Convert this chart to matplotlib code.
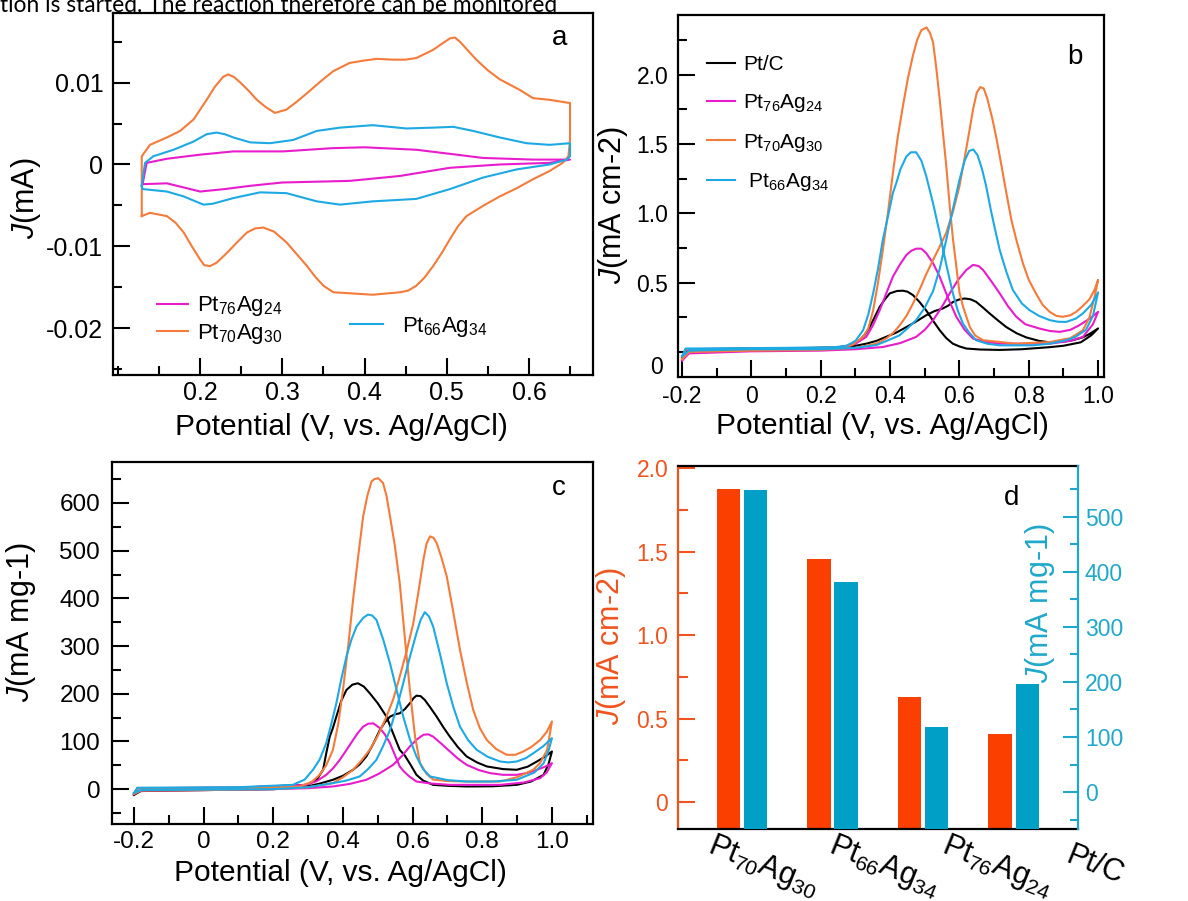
import matplotlib
matplotlib.use("Agg")
import matplotlib.pyplot as plt
from matplotlib.ticker import MultipleLocator, FixedLocator, FuncFormatter

plt.rcParams['font.family'] = ['Liberation Sans', 'DejaVu Sans']
plt.rcParams['mathtext.fontset'] = 'custom'
plt.rcParams['mathtext.rm'] = 'Liberation Sans'
plt.rcParams['mathtext.it'] = 'Liberation Sans:italic'
plt.rcParams['mathtext.default'] = 'regular'
plt.rcParams['axes.unicode_minus'] = False

ORANGE = '#F47B3A'
MAGENTA = '#E81CCC'
CYAN = '#1DA9E4'
BAR_RED = '#FB3F00'
BAR_CYAN = '#00A0C6'
AX_RED = '#F0541E'
AX_CYAN = '#1FA8CB'

# ---- panel a: CV in N2 (J in mA), closed loops ----
a_pt70_x = [0.129, 0.129, 0.139, 0.1595, 0.1757, 0.192, 0.208, 0.218, 0.228, 0.234, 0.241, 0.249, 0.259,
            0.269, 0.280, 0.291, 0.305, 0.318, 0.330, 0.346, 0.362, 0.382, 0.400, 0.415, 0.435, 0.450,
            0.463, 0.4835, 0.495, 0.504, 0.510, 0.516, 0.525, 0.536, 0.550, 0.5645, 0.589, 0.605,
            0.625, 0.650, 0.650, 0.648, 0.641, 0.625, 0.605, 0.585, 0.5645, 0.545, 0.524, 0.514, 0.504,
            0.494, 0.4835, 0.473, 0.463, 0.453, 0.443, 0.410, 0.362, 0.350, 0.340, 0.330, 0.318, 0.305,
            0.290, 0.277, 0.267, 0.257, 0.245, 0.2325, 0.220, 0.212, 0.205, 0.200, 0.190, 0.180, 0.170,
            0.1595, 0.139, 0.129]
a_pt70_y = [-0.0063, 0.0010, 0.0024, 0.0033, 0.0041, 0.0055, 0.0079, 0.0095, 0.0107, 0.0110, 0.0107,
            0.0100, 0.0090, 0.0079, 0.0070, 0.0063, 0.0067, 0.0077, 0.0087, 0.0101, 0.0114, 0.0124,
            0.0127, 0.0129, 0.0128, 0.0128, 0.0130, 0.0140, 0.0148, 0.0154, 0.0155, 0.0150, 0.0140,
            0.0128, 0.0115, 0.0104, 0.0091, 0.0081, 0.0079, 0.0075, 0.0030, 0.0010, 0.0002, -0.0008,
            -0.0018, -0.0029, -0.0039, -0.0050, -0.0063, -0.0075, -0.0091, -0.0108, -0.0124, -0.0138,
            -0.0148, -0.0154, -0.0156, -0.0159, -0.0156, -0.0148, -0.0137, -0.0124, -0.0110, -0.0095,
            -0.0082, -0.0077, -0.0078, -0.0083, -0.0095, -0.0108, -0.0120, -0.0124, -0.0123, -0.0116,
            -0.0100, -0.0083, -0.0071, -0.0063, -0.0059, -0.0063]

a_pt66_x = [0.129, 0.133, 0.143, 0.1676, 0.192, 0.208, 0.220, 0.230, 0.2405, 0.261, 0.285, 0.3134,
            0.342, 0.370, 0.410, 0.451, 0.4835, 0.508, 0.532, 0.5645, 0.597, 0.625, 0.650, 0.650, 0.646,
            0.625, 0.585, 0.544, 0.504, 0.463, 0.410, 0.370, 0.342, 0.305, 0.273, 0.2405, 0.215, 0.204,
            0.192, 0.180, 0.1595, 0.130, 0.129]
a_pt66_y = [-0.0026, 0.0002, 0.0010, 0.0018, 0.0028, 0.0037, 0.0039, 0.0037, 0.0033, 0.0027, 0.0026,
            0.0030, 0.0041, 0.0045, 0.0048, 0.0044, 0.0045, 0.0046, 0.0041, 0.0033, 0.0026, 0.0024,
            0.0026, 0.0010, 0.0006, 0.0000, -0.0006, -0.0016, -0.0030, -0.0042, -0.0045, -0.0049,
            -0.0045, -0.0035, -0.0034, -0.0041, -0.0048, -0.0049, -0.0044, -0.0039, -0.0033, -0.0030,
            -0.0026]

a_pt76_x = [0.130, 0.135, 0.1595, 0.200, 0.2405, 0.301, 0.362, 0.400, 0.463, 0.504, 0.544, 0.605,
            0.650, 0.625, 0.5645, 0.504, 0.443, 0.382, 0.300, 0.261, 0.230, 0.200, 0.180, 0.1595, 0.130]
a_pt76_y = [-0.0024, 0.0002, 0.0007, 0.0012, 0.0016, 0.0016, 0.0020, 0.0021, 0.0018, 0.0013, 0.0008,
            0.0006, 0.0006, 0.0002, 0.0000, -0.0004, -0.0014, -0.0020, -0.0022, -0.0026, -0.0030,
            -0.0033, -0.0028, -0.0023, -0.0024]

# ---- panel b: CV in methanol (J in mA cm-2), forward + reverse scans ----
b_ptc_fx = [-0.2, -0.18, 0.0, 0.2, 0.28, 0.331, 0.36, 0.389, 0.418, 0.447, 0.475, 0.504, 0.528, 0.552,
            0.568, 0.581, 0.598, 0.615, 0.632, 0.648, 0.668, 0.687, 0.71, 0.735, 0.765, 0.793, 0.83,
            0.86, 0.9, 0.927, 0.955, 0.975, 1.0]
b_ptc_fy = [-0.04, 0.01, 0.015, 0.02, 0.035, 0.06, 0.08, 0.11, 0.14, 0.18, 0.22, 0.265, 0.295, 0.314,
            0.335, 0.36, 0.378, 0.386, 0.38, 0.362, 0.32, 0.278, 0.23, 0.18, 0.135, 0.105, 0.08, 0.07,
            0.075, 0.085, 0.105, 0.13, 0.17]
b_ptc_rx = [0.98, 0.95, 0.9, 0.86, 0.78, 0.716, 0.66, 0.62, 0.6, 0.581, 0.562, 0.543, 0.524, 0.504,
            0.485, 0.466, 0.45, 0.437, 0.42, 0.399, 0.385, 0.37, 0.355, 0.341, 0.327, 0.312, 0.29, 0.255,
            0.139, 0.0, -0.19, -0.2]
b_ptc_ry = [0.12, 0.07, 0.045, 0.035, 0.02, 0.015, 0.018, 0.025, 0.04, 0.06, 0.10, 0.157, 0.225, 0.30,
            0.36, 0.41, 0.435, 0.442, 0.44, 0.423, 0.38, 0.326, 0.25, 0.18, 0.125, 0.085, 0.05, 0.036,
            0.025, 0.025, 0.02, -0.04]

b_pt76_fx = [-0.2, -0.18, 0.0, 0.2, 0.3, 0.379, 0.43, 0.475, 0.5, 0.524, 0.548, 0.572, 0.596, 0.62, 0.639,
             0.655, 0.668, 0.692, 0.716, 0.74, 0.764, 0.79, 0.831, 0.86, 0.889, 0.92, 0.946, 0.975, 1.0]
b_pt76_fy = [-0.06, -0.01, 0.005, 0.01, 0.02, 0.036, 0.065, 0.109, 0.16, 0.23, 0.32, 0.423, 0.52, 0.592,
             0.628, 0.62, 0.592, 0.51, 0.423, 0.33, 0.254, 0.20, 0.169, 0.152, 0.145, 0.16, 0.193, 0.24,
             0.29]
b_pt76_rx = [0.985, 0.956, 0.92, 0.86, 0.716, 0.67, 0.639, 0.615, 0.591, 0.567, 0.543, 0.524, 0.504, 0.49,
             0.475, 0.461, 0.447, 0.428, 0.408, 0.39, 0.37, 0.35, 0.331, 0.30, 0.274, 0.1, -0.19, -0.2]
b_pt76_ry = [0.2, 0.109, 0.08, 0.06, 0.06, 0.075, 0.097, 0.16, 0.254, 0.39, 0.543, 0.64, 0.713, 0.745,
             0.745, 0.73, 0.70, 0.63, 0.543, 0.43, 0.302, 0.19, 0.109, 0.06, 0.036, 0.02, 0.015, -0.06]

b_pt70_fx = [-0.2, -0.18, 0.0, 0.2, 0.3, 0.36, 0.39, 0.41, 0.43, 0.447, 0.466, 0.485, 0.504, 0.524, 0.543,
             0.562, 0.581, 0.6, 0.615, 0.629, 0.64, 0.65, 0.66, 0.67, 0.68, 0.695, 0.706, 0.72, 0.735,
             0.75, 0.765, 0.783, 0.80, 0.821, 0.84, 0.86, 0.88, 0.898, 0.92, 0.937, 0.955, 0.975, 0.99,
             1.0]
b_pt70_fy = [-0.05, 0.0, 0.01, 0.015, 0.03, 0.06, 0.10, 0.14, 0.20, 0.26, 0.35, 0.45, 0.56, 0.664, 0.76,
             0.86, 1.01, 1.196, 1.40, 1.60, 1.76, 1.87, 1.91, 1.90, 1.83, 1.68, 1.55, 1.36, 1.15, 0.95,
             0.80, 0.64, 0.52, 0.42, 0.34, 0.29, 0.26, 0.254, 0.265, 0.29, 0.33, 0.38, 0.45, 0.52]
b_pt70_rx = [0.99, 0.975, 0.956, 0.92, 0.86, 0.764, 0.668, 0.645, 0.63, 0.62, 0.61, 0.60, 0.591, 0.581,
             0.572, 0.562, 0.552, 0.543, 0.533, 0.524, 0.515, 0.505, 0.49, 0.478, 0.466, 0.451, 0.437,
             0.422, 0.408, 0.394, 0.379, 0.365, 0.351, 0.337, 0.322, 0.29, 0.255, 0.1, -0.19, -0.2]
b_pt70_ry = [0.40, 0.25, 0.157, 0.10, 0.072, 0.06, 0.085, 0.12, 0.18, 0.254, 0.33, 0.43, 0.616, 0.82,
             1.05, 1.34, 1.59, 1.82, 2.05, 2.23, 2.30, 2.34, 2.32, 2.25, 2.14, 1.97, 1.775, 1.55, 1.29,
             1.01, 0.737, 0.50, 0.30, 0.17, 0.109, 0.05, 0.036, 0.025, 0.02, -0.05]

b_pt66_fx = [-0.2, -0.18, 0.0, 0.2, 0.3, 0.36, 0.39, 0.427, 0.45, 0.475, 0.5, 0.524, 0.543, 0.562, 0.581,
             0.6, 0.615, 0.628, 0.64, 0.652, 0.665, 0.677, 0.69, 0.703, 0.716, 0.735, 0.754, 0.78, 0.802,
             0.83, 0.86, 0.885, 0.908, 0.935, 0.956, 0.98, 1.0]
b_pt66_fy = [-0.03, 0.01, 0.02, 0.02, 0.03, 0.05, 0.08, 0.12, 0.17, 0.23, 0.32, 0.44, 0.60, 0.81, 1.03,
             1.24, 1.38, 1.45, 1.46, 1.42, 1.32, 1.196, 1.03, 0.88, 0.737, 0.58, 0.447, 0.35, 0.302, 0.26,
             0.23, 0.218, 0.217, 0.24, 0.278, 0.34, 0.43]
b_pt66_rx = [0.985, 0.965, 0.935, 0.908, 0.86, 0.812, 0.716, 0.68, 0.648, 0.628, 0.61, 0.595, 0.581, 0.562,
             0.543, 0.524, 0.504, 0.49, 0.475, 0.46, 0.447, 0.43, 0.418, 0.408, 0.394, 0.379, 0.365,
             0.351, 0.337, 0.322, 0.30, 0.274, 0.24, 0.1, -0.19, -0.2]
b_pt66_ry = [0.26, 0.16, 0.11, 0.085, 0.06, 0.048, 0.048, 0.06, 0.085, 0.14, 0.205, 0.30, 0.423, 0.63,
             0.857, 1.07, 1.27, 1.38, 1.44, 1.44, 1.41, 1.32, 1.22, 1.147, 0.98, 0.81, 0.60, 0.423, 0.27,
             0.157, 0.08, 0.045, 0.035, 0.03, 0.025, -0.03]

# ---- panel c: CV in methanol (J in mA mg-1), forward + reverse scans ----
c_ptc_fx = [-0.2, -0.18, 0.0, 0.2, 0.3, 0.335, 0.371, 0.4, 0.429, 0.448, 0.467, 0.487, 0.506, 0.52, 0.535,
            0.55, 0.563, 0.578, 0.592, 0.603, 0.611, 0.623, 0.635, 0.65, 0.669, 0.688, 0.707, 0.73,
            0.755, 0.785, 0.813, 0.86, 0.899, 0.93, 0.957, 0.98, 1.0]
c_ptc_fy = [-12, -4, -2, 0, 6, 12, 19.6, 28, 40.6, 52, 68.5, 95, 124, 140, 152, 157, 159, 168, 180, 191,
            196, 195, 187, 172, 152, 130, 110, 88, 68.5, 56, 47.6, 42, 40.6, 47, 58, 68, 79]
c_ptc_rx = [0.99, 0.976, 0.94, 0.899, 0.83, 0.755, 0.7, 0.659, 0.63, 0.611, 0.595, 0.578, 0.563, 0.545,
            0.525, 0.5, 0.477, 0.46, 0.443, 0.427, 0.41, 0.395, 0.381, 0.371, 0.362, 0.352, 0.343, 0.325,
            0.295, 0.1, -0.19, -0.2]
c_ptc_ry = [52, 30, 16, 9, 6, 5.6, 7, 9, 18, 30, 50, 70, 82.5, 115, 152, 180, 201, 215, 222, 219, 208,
            185, 152, 128, 110, 75, 40.6, 20, 9, 3, 2, -12]

c_pt76_fx = [-0.2, -0.18, 0.0, 0.2, 0.3, 0.371, 0.42, 0.467, 0.505, 0.544, 0.57, 0.592, 0.612, 0.631,
             0.645, 0.659, 0.683, 0.707, 0.73, 0.755, 0.79, 0.822, 0.86, 0.899, 0.93, 0.957, 0.98, 1.0]
c_pt76_fy = [-10, -3, -2, 0, 2, 5.6, 11, 19.6, 33, 51, 70, 89.5, 104, 114, 115, 110, 95, 79, 64, 51, 40,
             33.6, 30, 30, 34, 40.6, 47, 54.5]
c_pt76_rx = [0.985, 0.966, 0.92, 0.851, 0.707, 0.65, 0.611, 0.59, 0.575, 0.563, 0.55, 0.535, 0.52, 0.506,
             0.487, 0.472, 0.458, 0.443, 0.429, 0.41, 0.391, 0.372, 0.352, 0.325, 0.295, 0.1, -0.19, -0.2]
c_pt76_ry = [35, 23, 14, 9, 9, 12, 16, 27, 37, 47.6, 70, 96.5, 115, 128, 138, 137, 131, 118, 103, 82,
             61.5, 44, 30, 17, 9, 3, 2, -10]

c_pt70_fx = [-0.2, -0.18, 0.0, 0.2, 0.3, 0.371, 0.4, 0.429, 0.453, 0.477, 0.5, 0.525, 0.545, 0.563, 0.583,
             0.602, 0.617, 0.631, 0.64, 0.65, 0.66, 0.669, 0.683, 0.698, 0.717, 0.736, 0.755, 0.774,
             0.793, 0.813, 0.84, 0.87, 0.895, 0.918, 0.94, 0.966, 0.985, 1.0]
c_pt70_fy = [-10, -3, -2, 0, 4, 12.6, 25, 40.6, 60, 82.5, 112, 152, 190, 236, 290, 348, 415, 481, 515,
             530, 527, 516, 485, 446, 370, 292, 225, 166, 128, 103, 84, 72, 72, 79, 88, 103, 120, 142]
c_pt70_rx = [0.986, 0.966, 0.947, 0.9, 0.851, 0.755, 0.7, 0.659, 0.64, 0.621, 0.607, 0.592, 0.578, 0.563,
             0.549, 0.535, 0.525, 0.515, 0.501, 0.49, 0.482, 0.47, 0.458, 0.444, 0.429, 0.415, 0.4,
             0.386, 0.371, 0.352, 0.333, 0.31, 0.275, 0.1, -0.19, -0.2]
c_pt70_ry = [82, 55, 41, 25, 16, 16, 17, 20, 32, 55, 110, 208, 315, 432, 510, 572, 615, 642, 652, 650,
             645, 615, 572, 490, 397, 300, 208, 135, 82, 50, 30, 15, 5.6, 3, 2, -10]

c_pt66_fx = [-0.2, -0.18, 0.0, 0.2, 0.3, 0.371, 0.41, 0.448, 0.472, 0.496, 0.515, 0.535, 0.554, 0.573,
             0.592, 0.611, 0.623, 0.635, 0.647, 0.659, 0.678, 0.698, 0.717, 0.736, 0.76, 0.784, 0.815,
             0.851, 0.875, 0.899, 0.925, 0.947, 0.975, 1.0]
c_pt66_fy = [-8, -2, -1, 0, 4, 12.6, 18, 26.6, 42, 61.5, 90, 124, 170, 222, 277, 327, 355, 371, 362, 341,
             285, 222, 172, 131, 102, 82.5, 68, 58, 56, 58, 65, 75.5, 90, 107]
c_pt66_rx = [0.99, 0.976, 0.95, 0.899, 0.83, 0.755, 0.7, 0.65, 0.63, 0.611, 0.592, 0.573, 0.554, 0.535,
             0.515, 0.496, 0.484, 0.472, 0.458, 0.439, 0.424, 0.41, 0.395, 0.381, 0.366, 0.352, 0.333,
             0.314, 0.29, 0.256, 0.1, -0.19, -0.2]
c_pt66_ry = [80, 54.5, 35, 19.6, 16, 16, 19, 26.6, 42, 68.5, 105, 152, 208, 264, 315, 355, 364, 366, 359,
             341, 313, 278, 230, 180, 135, 96.5, 62, 40.6, 20, 9, 4, 3, -8]

# ---- panel d: peak current densities ----
d_samples = [r'Pt$_{70}$Ag$_{30}$', r'Pt$_{66}$Ag$_{34}$', r'Pt$_{76}$Ag$_{24}$', 'Pt/C']
d_area = [1.874, 1.455, 0.629, 0.407]      # mA cm-2
d_mass = [549, 381, 119, 197]              # mA mg-1

fig = plt.figure(figsize=(11.88, 9.01), dpi=100)

fig.text(0.0, 1 - 12.5 / 901, 'tion is started. The reaction therefore can be monitored',
         fontsize=16.4, family=['Lato', 'DejaVu Sans'], va='baseline', ha='left')


def style_axes(ax, tsize):
    for s in ax.spines.values():
        s.set_linewidth(1.6)
    ax.tick_params(which='both', direction='in', top=False, right=False, width=1.5,
                   labelsize=tsize)
    ax.tick_params(which='major', length=12)
    ax.tick_params(which='minor', length=6.5)


# panel a
ax_a = fig.add_axes([0.0951, 0.5838, 0.4041, 0.4018])
ax_a.plot(a_pt76_x, a_pt76_y, color=MAGENTA, lw=1.5, label=r'Pt$_{76}$Ag$_{24}$')
ax_a.plot(a_pt70_x, a_pt70_y, color=ORANGE, lw=1.5, label=r'Pt$_{70}$Ag$_{30}$')
ax_a.plot(a_pt66_x, a_pt66_y, color=CYAN, lw=1.5, label=r'Pt$_{66}$Ag$_{34}$')
ax_a.set_xlim(0.094, 0.678)
ax_a.set_ylim(-0.0257, 0.0185)
ax_a.xaxis.set_major_locator(FixedLocator([0.2, 0.3, 0.4, 0.5, 0.6]))
ax_a.xaxis.set_minor_locator(MultipleLocator(0.05))
ax_a.yaxis.set_major_locator(FixedLocator([-0.02, -0.01, 0, 0.01]))
ax_a.yaxis.set_minor_locator(MultipleLocator(0.005))
ax_a.yaxis.set_major_formatter(FuncFormatter(lambda v, p: '0' if abs(v) < 1e-9 else '%g' % v))
style_axes(ax_a, 18)
ax_a.tick_params(axis='y', pad=7)
ax_a.tick_params(axis='x', pad=4)
ax_a.set_xlabel('Potential (V, vs. Ag/AgCl)', fontsize=21.5)
ax_a.xaxis.set_label_coords(0.475, -0.105)
ax_a.xaxis.label.set_va('top')
ax_a.set_ylabel(r'$\mathit{J}$(mA)', fontsize=22)
ax_a.yaxis.set_label_coords(-0.146, 0.489)
h = ax_a.get_lines()
leg1 = ax_a.legend(h[:2], [l.get_label() for l in h[:2]], loc='center left',
                   bbox_to_anchor=(0.092, 0.152), frameon=False, fontsize=16, borderpad=0,
                   borderaxespad=0, handlelength=1.4, handletextpad=0.4, labelspacing=0.15)
ax_a.add_artist(leg1)
ax_a.legend(h[2:], [h[2].get_label()], loc='center left', bbox_to_anchor=(0.494, 0.133),
            frameon=False, fontsize=16, borderpad=0, borderaxespad=0, handlelength=1.5,
            handletextpad=0.85)
ax_a.text(0.931, 0.931, 'a', transform=ax_a.transAxes, fontsize=20, ha='center', va='center')

# panel b
ax_b = fig.add_axes([0.5707, 0.5816, 0.3586, 0.4018])
ax_b.plot(b_ptc_fx + b_ptc_rx, b_ptc_fy + b_ptc_ry, color='black', lw=1.5, label='Pt/C')
ax_b.plot(b_pt76_fx + b_pt76_rx, b_pt76_fy + b_pt76_ry, color=MAGENTA, lw=1.5,
          label=r'Pt$_{76}$Ag$_{24}$')
ax_b.plot(b_pt70_fx + b_pt70_rx, b_pt70_fy + b_pt70_ry, color=ORANGE, lw=1.5,
          label=r'Pt$_{70}$Ag$_{30}$')
ax_b.plot(b_pt66_fx + b_pt66_rx, b_pt66_fy + b_pt66_ry, color=CYAN, lw=1.5,
          label=r' Pt$_{66}$Ag$_{34}$')
ax_b.set_xlim(-0.212, 1.017)
ax_b.set_ylim(-0.18, 2.43)
ax_b.xaxis.set_major_locator(FixedLocator([-0.2, 0, 0.2, 0.4, 0.6, 0.8, 1.0]))
ax_b.xaxis.set_minor_locator(MultipleLocator(0.1))
ax_b.xaxis.set_major_formatter(FuncFormatter(lambda v, p: '0' if abs(v) < 1e-9 else '%.1f' % v))
ax_b.yaxis.set_major_locator(FixedLocator([0, 0.5, 1.0, 1.5, 2.0]))
ax_b.yaxis.set_minor_locator(MultipleLocator(0.25))
ax_b.yaxis.set_major_formatter(FuncFormatter(lambda v, p: '' if abs(v) < 1e-9 else '%.1f' % v))
style_axes(ax_b, 16.5)
ax_b.tick_params(axis='y', pad=7)
ax_b.tick_params(axis='x', pad=6)
ax_b.text(-0.035, -0.115, '0', transform=ax_b.get_yaxis_transform(), fontsize=16.5,
          ha='right', va='center')
ax_b.set_xlabel('Potential (V, vs. Ag/AgCl)', fontsize=21.5)
ax_b.xaxis.set_label_coords(0.481, -0.097)
ax_b.xaxis.label.set_va('top')
ax_b.set_ylabel(r'$\mathit{J}$(mA cm-2)', fontsize=22)
ax_b.yaxis.set_label_coords(-0.113, 0.475)
ax_b.legend(loc='center left', bbox_to_anchor=(0.068, 0.698), frameon=False, fontsize=15,
            borderpad=0, borderaxespad=0, handlelength=1.35, handletextpad=0.4, labelspacing=0.85)
ax_b.text(0.932, 0.884, 'b', transform=ax_b.transAxes, fontsize=20, ha='center', va='center')

# panel c
ax_c = fig.add_axes([0.0943, 0.0855, 0.4049, 0.4018])
ax_c.plot(c_ptc_fx + c_ptc_rx, c_ptc_fy + c_ptc_ry, color='black', lw=1.5)
ax_c.plot(c_pt76_fx + c_pt76_rx, c_pt76_fy + c_pt76_ry, color=MAGENTA, lw=1.5)
ax_c.plot(c_pt70_fx + c_pt70_rx, c_pt70_fy + c_pt70_ry, color=ORANGE, lw=1.5)
ax_c.plot(c_pt66_fx + c_pt66_rx, c_pt66_fy + c_pt66_ry, color=CYAN, lw=1.5)
ax_c.set_xlim(-0.263, 1.118)
ax_c.set_ylim(-73, 686)
ax_c.xaxis.set_major_locator(FixedLocator([-0.2, 0, 0.2, 0.4, 0.6, 0.8, 1.0]))
ax_c.xaxis.set_minor_locator(MultipleLocator(0.1))
ax_c.xaxis.set_major_formatter(FuncFormatter(lambda v, p: '0' if abs(v) < 1e-9 else '%.1f' % v))
ax_c.yaxis.set_major_locator(MultipleLocator(100))
ax_c.yaxis.set_minor_locator(MultipleLocator(50))
style_axes(ax_c, 17.5)
ax_c.tick_params(axis='y', pad=8.5)
ax_c.tick_params(axis='x', pad=5)
ax_c.set_xlabel('Potential (V, vs. Ag/AgCl)', fontsize=21.5)
ax_c.xaxis.set_label_coords(0.474, -0.097)
ax_c.xaxis.label.set_va('top')
ax_c.set_ylabel(r'$\mathit{J}$(mA mg-1)', fontsize=22)
ax_c.yaxis.set_label_coords(-0.154, 0.558)
ax_c.text(0.929, 0.928, 'c', transform=ax_c.transAxes, fontsize=20, ha='center', va='center')

# panel d
ax_d = fig.add_axes([0.5707, 0.0799, 0.3367, 0.4029])
ax_d2 = ax_d.twinx()
xpos = list(range(len(d_samples)))
ylo_d, ylo_d2 = -0.16, -67
ax_d.bar([x - 0.15 for x in xpos], [v - ylo_d for v in d_area], bottom=ylo_d, width=0.26,
         color=BAR_RED)
ax_d2.bar([x + 0.15 for x in xpos], [v - ylo_d2 for v in d_mass], bottom=ylo_d2, width=0.26,
          color=BAR_CYAN)
ax_d.set_xlim(-0.707, 3.71)
ax_d.set_ylim(ylo_d, 2.012)
ax_d2.set_ylim(ylo_d2, 592)
ax_d.set_xticks([])
ax_d.yaxis.set_major_locator(FixedLocator([0, 0.5, 1.0, 1.5, 2.0]))
ax_d.yaxis.set_minor_locator(MultipleLocator(0.25))
ax_d.yaxis.set_major_formatter(FuncFormatter(lambda v, p: '0' if abs(v) < 1e-9 else '%.1f' % v))
ax_d2.yaxis.set_major_locator(MultipleLocator(100))
ax_d2.yaxis.set_minor_locator(MultipleLocator(50))
for s in ax_d.spines.values():
    s.set_linewidth(1.6)
ax_d.spines['left'].set_color(AX_RED)
ax_d.spines['right'].set_visible(False)
for k in ('left', 'top', 'bottom'):
    ax_d2.spines[k].set_visible(False)
ax_d2.spines['right'].set_color(AX_CYAN)
ax_d2.spines['right'].set_linewidth(1.6)
ax_d.tick_params(axis='y', which='both', direction='in', width=1.5, color=AX_RED,
                 labelcolor=AX_RED, labelsize=16.5, pad=7)
ax_d.tick_params(axis='y', which='major', length=12)
ax_d.tick_params(axis='y', which='minor', length=7)
ax_d2.tick_params(axis='y', which='both', direction='in', width=1.5, color=AX_CYAN,
                  labelcolor=AX_CYAN, labelsize=16.5, pad=5)
ax_d2.tick_params(axis='y', which='major', length=11)
ax_d2.tick_params(axis='y', which='minor', length=6)
ax_d.text(-0.125, 0.504, r'$\mathit{J}$(mA cm-2)', transform=ax_d.transAxes, rotation=90,
          fontsize=22, color=AX_RED, ha='right', va='center')
ax_d.text(0.905, 0.623, r'$\mathit{J}$(mA mg-1)', transform=ax_d.transAxes, rotation=90,
          fontsize=22, color=AX_CYAN, ha='center', va='center')
label_pos = [0.2125, 0.515, 0.7975, 1.0425]
for name, lx in zip(d_samples, label_pos):
    ax_d.text(lx, -0.102, name, transform=ax_d.transAxes, rotation=-22, fontsize=22,
              ha='center', va='center')
ax_d.text(0.835, 0.912, 'd', transform=ax_d.transAxes, fontsize=20, ha='center', va='center')

fig.savefig('out.png', dpi=100)
